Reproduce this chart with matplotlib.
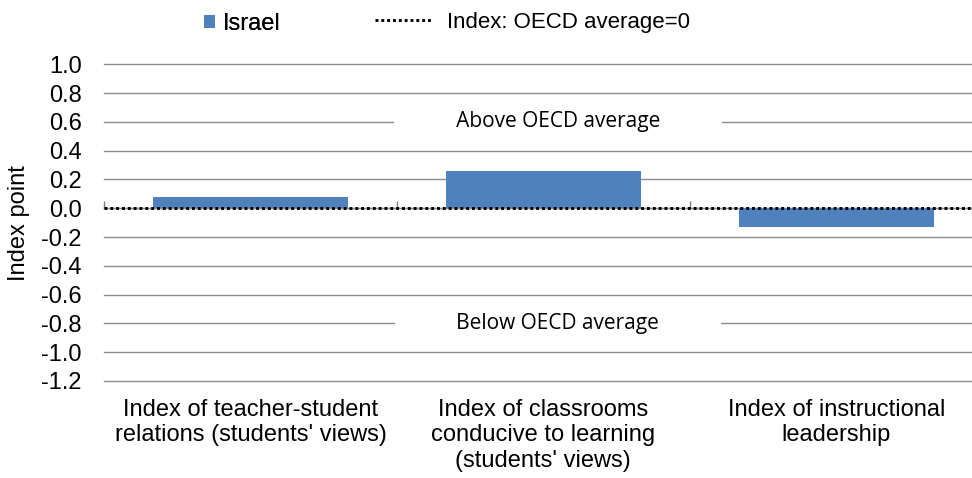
import matplotlib.pyplot as plt
import numpy as np
from matplotlib.lines import Line2D
from matplotlib.patches import Patch

plt.rcParams["font.family"] = ["Liberation Sans", "DejaVu Sans"]

categories = [
    "Index of teacher-student\nrelations (students' views)",
    "Index of classrooms\nconducive to learning\n(students' views)",
    "Index of instructional\nleadership",
]
israel = [0.077, 0.258, -0.132]
yticks = [1.0, 0.8, 0.6, 0.4, 0.2, 0.0, -0.2, -0.4, -0.6, -0.8, -1.0, -1.2]

BLUE = "#4F81BD"
GRID = "#8C8C8C"
DOTS = (0, (1.0, 1.0))


def main() -> None:
    fig = plt.figure(figsize=(9.72, 4.78), dpi=100)
    # plot area runs slightly past the right edge, as in the original
    ax = fig.add_axes([0.107, 0.203, 0.904, 0.6626])

    x = np.arange(len(categories))
    ax.bar(x, israel, width=0.665, color=BLUE, zorder=3)
    ax.axhline(0, color="black", linestyle=DOTS, linewidth=2.1, zorder=4)

    ymin, ymax = min(yticks), max(yticks)
    ax.set_ylim(ymin, ymax)
    ax.set_xlim(-0.5, len(categories) - 0.5)
    ax.set_yticks(yticks, [f"{v:.1f}" for v in yticks])
    ax.set_xticks(x, categories)
    ax.tick_params(axis="both", length=0, labelsize=17)
    ax.tick_params(axis="x", pad=13)
    ax.tick_params(axis="y", pad=16)
    ax.set_ylabel("Index point", fontsize=17, labelpad=8)

    ax.set_axisbelow(True)
    ax.grid(axis="y", color=GRID, linewidth=1.0)
    for gl in ax.get_ygridlines():
        gl.set_clip_on(False)
    for s in ax.spines.values():
        s.set_visible(False)

    # category separator ticks on the zero line
    zero_pos = (0 - ymin) / (ymax - ymin)
    sec = ax.secondary_xaxis(zero_pos)
    sec.set_xticks(np.arange(len(categories) + 1) - 0.5, [""] * (len(categories) + 1))
    sec.tick_params(length=5, color="#7F7F7F", width=1.0)
    sec.spines["bottom"].set_visible(False)

    box = dict(facecolor="white", edgecolor="none", pad=2)
    pad = " " * 11
    ax.text(1.05, 0.6, pad + "Above OECD average" + pad, ha="center", va="center",
            fontsize=15, family=["Open Sans", "DejaVu Sans"], bbox=box, zorder=5)
    ax.text(1.05, -0.8, pad + "Below OECD average" + pad, ha="center", va="center",
            fontsize=15, family=["Open Sans", "DejaVu Sans"], bbox=box, zorder=5)

    leg1 = fig.legend(handles=[Patch(facecolor=BLUE, label="Israel")],
                      loc="center left", bbox_to_anchor=(0.2099, 0.950),
                      frameon=False, fontsize=17, handlelength=0.48, handleheight=0.52,
                      handletextpad=0.3, borderpad=0, borderaxespad=0)
    fig.add_artist(leg1)
    fig.legend(handles=[Line2D([], [], color="black", linestyle=DOTS, linewidth=2.1,
                               label="Index: OECD average=0")],
               loc="center left", bbox_to_anchor=(0.3858, 0.953),
               frameon=False, fontsize=16, handlelength=2.6,
               handletextpad=0.65, borderpad=0, borderaxespad=0)

    fig.savefig("out.png", dpi=100)
    plt.close(fig)


if __name__ == "__main__":
    main()
